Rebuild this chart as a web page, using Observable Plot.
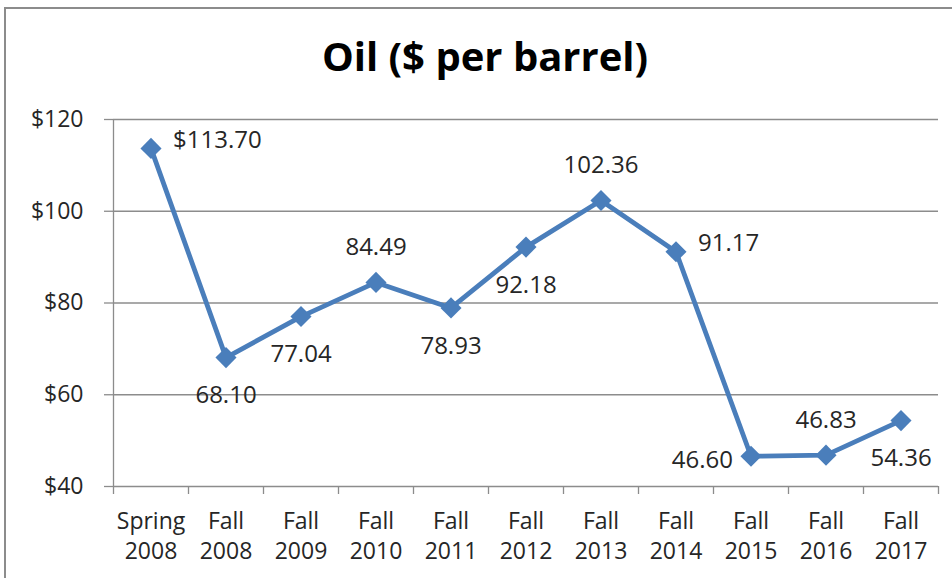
<!DOCTYPE html>
<html><head><meta charset="utf-8">
<script src="https://cdn.jsdelivr.net/npm/d3@7"></script>
<script src="https://cdn.jsdelivr.net/npm/@observablehq/plot@0.6"></script>
<style>
body{margin:0;background:#fff;}
#wrap{position:relative;width:952px;height:578px;overflow:hidden;font-family:"Open Sans",sans-serif;background:#fff;}
#border{position:absolute;left:4px;top:7px;width:1000px;height:700px;border-left:2px solid #8c8c8c;border-top:2px solid #8c8c8c;}
#title{position:absolute;left:485px;top:36px;transform:translateX(-50%);font-size:40px;font-weight:bold;line-height:40px;white-space:nowrap;color:#000;}
#chart{position:absolute;left:0;top:100px;}
</style></head><body>
<div id="wrap"><div id="border"></div><div id="title">Oil ($ per barrel)</div><div id="chart"></div></div>
<script>
// ---- data ----
const categories = ["Spring 2008","Fall 2008","Fall 2009","Fall 2010","Fall 2011","Fall 2012","Fall 2013","Fall 2014","Fall 2015","Fall 2016","Fall 2017"];
const prices = [113.70, 68.10, 77.04, 84.49, 78.93, 92.18, 102.36, 91.17, 46.60, 46.83, 54.36];
const yTicks = [40, 60, 80, 100, 120];
const labelSide = ["right","below","below","above","below","below","above","right","left","above","below"];

// ---- chart ----
const data = categories.map((c, i) => ({i, cat: c, price: prices[i], side: labelSide[i],
  label: (i === 0 ? "$" : "") + prices[i].toFixed(2)}));
const n = categories.length;
const boundaries = d3.range(n + 1).map(k => k - 0.5);
const gray = "#8c8c8c", blue = "#4a7ebb", ink = "#262626";
const fs = 23;

const chart = Plot.plot({
  width: 952, height: 478,
  marginTop: 19, marginBottom: 92, marginLeft: 113, marginRight: 14,
  style: {fontFamily: "'Open Sans', sans-serif", background: "transparent", overflow: "visible"},
  x: {type: "linear", domain: [-0.5, n - 0.5]},
  y: {domain: [40, 120]},
  marks: [
    Plot.gridY(yTicks, {stroke: gray, strokeOpacity: 1, strokeWidth: 1.3}),
    Plot.axisY(yTicks, {tickSize: 9, tickPadding: 21, tickFormat: d => "$" + d, stroke: gray, strokeWidth: 1.3, fill: ink, fontSize: fs, label: null}),
    Plot.ruleX([-0.5], {y1: 40, y2: 120, stroke: gray, strokeWidth: 1.3}),
    Plot.axisX(boundaries, {tickSize: 8, tickFormat: () => "", stroke: gray, strokeWidth: 1.3, label: null}),
    Plot.axisX(d3.range(n), {tickSize: 0, tickPadding: 21, tickFormat: i => categories[i].replace(" ", "\n"), fill: ink, fontSize: fs, lineHeight: 1.32, label: null}),
    Plot.line(data, {x: "i", y: "price", stroke: blue, strokeWidth: 4.8}),
    Plot.dot(data, {x: "i", y: "price", symbol: "diamond2", r: 9.5, fill: blue, stroke: "none"}),
    Plot.text(data.filter(d => d.side === "above"), {x: "i", y: "price", text: "label", dy: -35, fill: ink, fontSize: 24}),
    Plot.text(data.filter(d => d.side === "below"), {x: "i", y: "price", text: "label", dy: 38, fill: ink, fontSize: 24}),
    Plot.text(data.filter(d => d.side === "right"), {x: "i", y: "price", text: "label", dx: 22, dy: -8, textAnchor: "start", fill: ink, fontSize: 24}),
    Plot.text(data.filter(d => d.side === "left"), {x: "i", y: "price", text: "label", dx: -18, dy: 4, textAnchor: "end", fill: ink, fontSize: 24})
  ]
});
document.getElementById("chart").appendChild(chart);
</script>
</body></html>
